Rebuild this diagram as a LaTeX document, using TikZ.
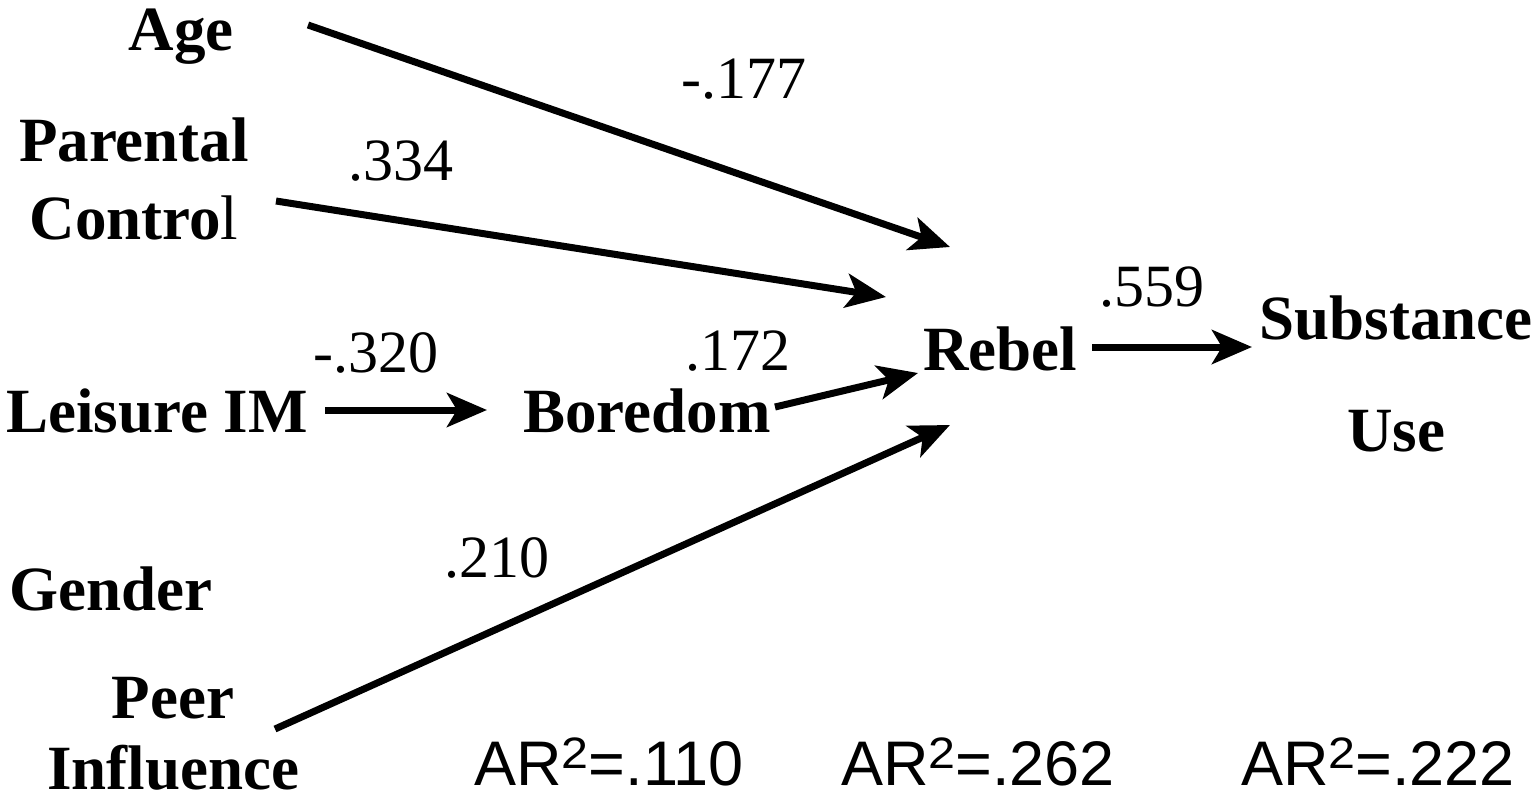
\documentclass[tikz,border=0pt]{standalone}
\usepackage{graphicx}
\usepackage{fontspec}
\setmainfont{Liberation Serif}
\newfontfamily\arialfont{Liberation Sans}
\usetikzlibrary{arrows.meta}
\newcommand{\arsq}{\raisebox{17pt}{\scalebox{1.1}[1]{\fontsize{44}{44}\selectfont 2}}}
\begin{document}
\begin{tikzpicture}[x=1pt,y=-1pt,
  lab/.style={font=\fontsize{63}{78}\selectfont\bfseries, inner sep=0pt, align=center},
  num/.style={font=\fontsize{60}{70}\selectfont, inner sep=0pt, anchor=base},
  arlab/.style={font=\arialfont\fontsize{63}{70}\selectfont, inner sep=0pt, anchor=base},
  conn/.style={line width=7pt, -{Stealth[length=40pt,width=34pt,inset=10pt]}}]
\useasboundingbox (0,0) rectangle (1538,801);

% variable nodes
\node[lab, anchor=base] (age) at (181,50) {Age};
\node[lab] (parent) at (134,179) {Parental\\Contro{\mdseries l}};
\node[lab, anchor=base] (leisure) at (157,432) {Leisure IM};
\node[lab, anchor=base] (boredom) at (647,432) {Boredom};
\node[lab, anchor=base] (rebel) at (1000,370) {Rebel};
\node[lab, font=\fontsize{63}{112}\selectfont\bfseries] (subst) at (1396,374) {Substance\\Use};
\node[lab, anchor=base] (gender) at (111,610) {Gender};
\node[lab, font=\fontsize{63}{71}\selectfont\bfseries] (peer) at (173,734) {Peer\\Influence};

% connector end points
\coordinate (ageOut) at (308,25);
\coordinate (rebelInA) at (950,247);
\coordinate (parentOut) at (276,201);
\coordinate (rebelInB) at (886,297);
\coordinate (leisureOut) at (325,410);
\coordinate (boredomIn) at (487,410);
\coordinate (boredomOut) at (775,407);
\coordinate (rebelInC) at (918,373);
\coordinate (peerOut) at (275,729);
\coordinate (rebelInD) at (950,425);
\coordinate (rebelOut) at (1092,347);
\coordinate (substIn) at (1252,347);

\draw[conn] (ageOut) -- (rebelInA);
\draw[conn] (parentOut) -- (rebelInB);
\draw[conn] (leisureOut) -- (boredomIn);
\draw[conn] (boredomOut) -- (rebelInC);
\draw[conn] (peerOut) -- (rebelInD);
\draw[conn] (rebelOut) -- (substIn);

% path coefficients
\node[num] (c177) at (744,98) {-.177};
\node[num] (c334) at (401,180) {.334};
\node[num] (c320) at (376,372) {-.320};
\node[num] (c172) at (738,370) {.172};
\node[num] (c559) at (1152,306) {.559};
\node[num] (c210) at (497,577) {.210};

% explained variance
\node[arlab] (r1) at (609,785) {AR\arsq=.110};
\node[arlab] (r2) at (978,785) {AR\arsq=.262};
\node[arlab] (r3) at (1378,785) {AR\arsq=.222};
\end{tikzpicture}
\end{document}
